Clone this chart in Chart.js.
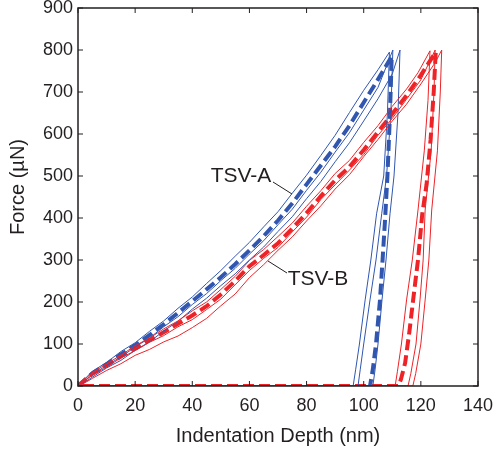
<!DOCTYPE html>
<html>
<head>
<meta charset="utf-8">
<script src="https://cdn.jsdelivr.net/npm/chart.js@4/dist/chart.umd.min.js"></script>
<style>
  body { margin: 0; background: #fff; }
  #wrap { width: 494px; height: 452px; }
</style>
</head>
<body>
<div id="wrap"><canvas id="nanoindent-chart" width="494" height="452"></canvas></div>
<script>
// depth (nm) / force (uN)
var xTicks = [0, 20, 40, 60, 80, 100, 120, 140];
var yTicks = [0, 100, 200, 300, 400, 500, 600, 700, 800, 900];

// TSV-A mean curve (dashed): loading then unloading
var aMeanX = [0, 2, 5, 10, 15, 20, 25, 30, 35, 40, 45, 50, 55, 60, 65, 70, 75, 80, 85, 90, 95, 100, 105, 109.8,
              109.2, 108.3, 107.5, 106.6, 105.7, 104.3, 103.2, 102.2];
var aMeanY = [0, 12, 30, 52, 75, 97, 121, 147, 174, 202, 230, 259, 290, 323, 357, 394, 435, 480, 525, 570, 620, 675, 730, 785,
              650, 500, 400, 300, 205, 100, 40, 0];

// TSV-A individual runs (thin)
var a1X = [0, 2, 5, 10, 15, 20, 25, 30, 35, 40, 45, 50, 55, 60, 65, 70, 75, 80, 85, 90, 95, 100, 105, 109,
           108.3, 107, 104.5, 102.5, 100.5, 98.5, 97.2, 96.3, 0];
var a1Y = [0, 14, 35, 56, 82, 103, 130, 155, 185, 212, 244, 275, 309, 342, 379, 415, 459, 502, 549, 597, 651, 704, 753, 795,
           650, 500, 410, 300, 205, 100, 40, 0, 0];
var a2X = [0, 2, 5, 10, 15, 20, 25, 30, 35, 40, 45, 50, 55, 60, 65, 70, 75, 80, 85, 90, 95, 100, 105, 110.2,
           109.5, 108, 106.3, 104.3, 102.2, 100, 98.8, 98, 0];
var a2Y = [0, 10, 27, 49, 69, 93, 114, 141, 165, 194, 220, 251, 280, 314, 346, 384, 421, 466, 509, 557, 603, 657, 711, 800,
           650, 500, 410, 300, 205, 100, 40, 0, 0];
var a3X = [0, 3, 5, 10, 15, 20, 25, 30, 35, 40, 45, 50, 55, 60, 65, 70, 75, 80, 85, 90, 95, 100, 105, 110, 112.7,
           112, 110.6, 109.2, 107.8, 106.4, 105, 104, 103.2, 0];
var a3Y = [0, 12, 21, 43, 61, 85, 105, 131, 154, 183, 209, 239, 267, 300, 331, 368, 403, 446, 487, 534, 579, 631, 684, 743, 800,
           650, 500, 410, 300, 205, 100, 40, 0, 0];

// TSV-B mean curve (dashed): loading, unloading, back along zero
var bMeanX = [0, 2, 5, 10, 15, 20, 25, 30, 35, 40, 45, 50, 55, 60, 65, 70, 75, 80, 85, 90, 95, 100, 105, 110, 115, 120, 125.2,
              124.5, 123.4, 122, 120.5, 119, 117.3, 116, 114.5, 113, 112, 0];
var bMeanY = [0, 12, 29, 49, 70, 90, 109, 128, 148, 168, 190, 218, 250, 285, 312, 340, 375, 412, 452, 490, 522, 562, 605, 648, 692, 740, 795,
              700, 586, 480, 410, 300, 205, 130, 55, 15, 0, 0];

// TSV-B individual runs (thin)
var b1X = [0, 2, 5, 10, 15, 20, 25, 30, 35, 40, 45, 50, 55, 60, 65, 70, 75, 80, 85, 90, 95, 100, 105, 110, 115, 119, 123.2,
           122.5, 121.2, 119, 117, 115, 113.2, 111.8, 111, 0];
var b1Y = [0, 14, 31, 53, 73, 96, 114, 136, 155, 179, 200, 230, 261, 299, 325, 356, 388, 428, 465, 506, 537, 580, 620, 666, 707, 746, 798,
           680, 560, 419, 300, 205, 100, 35, 0, 0];
var b2X = [0, 2, 5, 10, 15, 20, 25, 30, 35, 40, 45, 50, 55, 60, 65, 70, 75, 80, 85, 90, 95, 100, 105, 110, 115, 120, 125,
           124.6, 123.6, 121.5, 120.8, 119.7, 118.3, 116.5, 115.5, 0];
var b2Y = [0, 11, 26, 45, 67, 84, 104, 120, 141, 158, 182, 207, 241, 275, 304, 330, 367, 402, 444, 479, 514, 551, 597, 637, 683, 729, 800,
           700, 560, 419, 300, 205, 100, 30, 0, 0];
var b3X = [0, 3, 5, 10, 15, 20, 25, 30, 35, 40, 45, 50, 55, 60, 65, 70, 75, 80, 85, 90, 95, 100, 105, 110, 115, 120, 125, 127.3,
           126.8, 125.8, 123.8, 122.8, 121.5, 120, 118.2, 117.2, 0];
var b3Y = [0, 10, 18, 37, 53, 73, 87, 105, 119, 139, 161, 191, 219, 258, 289, 323, 355, 393, 429, 469, 503, 546, 587, 631, 671, 719, 770, 800,
           700, 560, 419, 300, 205, 100, 30, 0, 0];

var blue = '#3056b0';
var red = '#ee2328';
var ink = '#231f20';
var font = '"Liberation Sans", Arial, sans-serif';

function pts(xs, ys) {
    var out = [];
    for (var i = 0; i < xs.length; i++) {
        out.push({x: xs[i], y: ys[i]});
    }
    return out;
}

function thin(xs, ys, color) {
    return {data: pts(xs, ys), borderColor: color, borderWidth: 1, showLine: true, pointRadius: 0, fill: false};
}

function dashed(xs, ys, color) {
    return {data: pts(xs, ys), borderColor: color, borderWidth: 4, borderDash: [11, 5], showLine: true, pointRadius: 0, fill: false};
}

// frame, inward ticks, titles and the two labels
var decor = {
    id: 'decor',
    afterDraw: function (chart) {
        var ctx = chart.ctx;
        var a = chart.chartArea;
        var xs = chart.scales.x, ys = chart.scales.y;
        ctx.save();
        ctx.strokeStyle = ink;
        ctx.lineWidth = 1.5;
        ctx.strokeRect(a.left, a.top, a.right - a.left, a.bottom - a.top);
        ctx.lineWidth = 1;
        ctx.beginPath();
        xTicks.forEach(function (v) {
            var px = xs.getPixelForValue(v);
            ctx.moveTo(px, a.bottom); ctx.lineTo(px, a.bottom - 5);
            ctx.moveTo(px, a.top); ctx.lineTo(px, a.top + 5);
        });
        yTicks.forEach(function (v) {
            var py = ys.getPixelForValue(v);
            ctx.moveTo(a.left, py); ctx.lineTo(a.left + 5, py);
            ctx.moveTo(a.right, py); ctx.lineTo(a.right - 5, py);
        });
        ctx.stroke();

        ctx.fillStyle = ink;
        ctx.textAlign = 'center';
        ctx.textBaseline = 'middle';
        ctx.font = '20px ' + font;
        ctx.fillText('Indentation Depth (nm)', (a.left + a.right) / 2, 436);
        ctx.save();
        ctx.translate(18, 187);
        ctx.rotate(-Math.PI / 2);
        ctx.fillText('Force (\u00b5N)', 0, 0);
        ctx.restore();

        ctx.font = '21px ' + font;
        ctx.fillText('TSV-A', 241, 176);
        ctx.fillText('TSV-B', 318, 279);
        ctx.beginPath();
        ctx.moveTo(273, 182); ctx.lineTo(292, 194);
        ctx.moveTo(268, 261); ctx.lineTo(287, 273);
        ctx.stroke();
        ctx.restore();
    }
};

var context = document.getElementById('nanoindent-chart');
var config = {
    type: 'scatter',
    data: {
        datasets: [
            thin(b1X, b1Y, red), thin(b2X, b2Y, red), thin(b3X, b3Y, red),
            thin(a1X, a1Y, blue), thin(a2X, a2Y, blue), thin(a3X, a3Y, blue),
            dashed(bMeanX, bMeanY, red),
            dashed(aMeanX, aMeanY, blue)
        ]
    },
    options: {
        responsive: false,
        animation: false,
        events: [],
        layout: {padding: {top: 8, right: 16, left: 0, bottom: 0}},
        plugins: {legend: {display: false}, tooltip: {enabled: false}},
        scales: {
            x: {
                type: 'linear', min: 0, max: 140,
                afterBuildTicks: function (s) { s.ticks = xTicks.map(function (v) { return {value: v}; }); },
                afterFit: function (s) { s.height = 66; s.paddingLeft = 0; s.paddingRight = 0; },
                grid: {display: false, drawTicks: false},
                border: {display: false},
                ticks: {color: ink, padding: 9, font: {family: font, size: 18}, maxRotation: 0}
            },
            y: {
                type: 'linear', min: 0, max: 900,
                afterBuildTicks: function (s) { s.ticks = yTicks.map(function (v) { return {value: v}; }); },
                afterFit: function (s) { s.width = 78; s.paddingTop = 0; s.paddingBottom = 0; },
                grid: {display: false, drawTicks: false},
                border: {display: false},
                ticks: {color: ink, padding: 5, font: {family: font, size: 18}}
            }
        }
    },
    plugins: [decor]
};
new Chart(context, config);
</script>
</body>
</html>
